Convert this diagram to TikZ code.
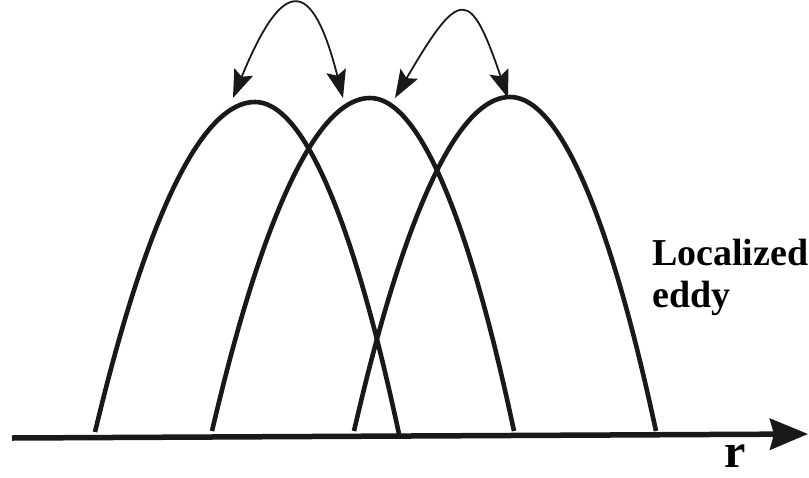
\documentclass[tikz,border=0pt]{standalone}
\usepackage{fontspec}
\setmainfont{Liberation Serif}
\usetikzlibrary{arrows.meta}
\begin{document}
\begin{tikzpicture}[x=1pt,y=-1pt,
  eddycurve/.style={line width=4.6pt,black!90},
  axisline/.style={line width=5.5pt,black!90,-{Stealth[length=38pt,width=31pt,inset=4pt]}},
  hop/.style={line width=1.8pt,black!90,{Stealth[length=28pt,width=20pt,inset=5pt]}-{Stealth[length=28pt,width=20pt,inset=5pt]}},
  lbl/.style={inner sep=0pt,anchor=base west,font=\bfseries\fontsize{38}{42}\selectfont}
]
\useasboundingbox (0,0) rectangle (809,477);
% axis
\coordinate (axL) at (12,438);
\coordinate (axR) at (808,434);
\draw[axisline] (axL) -- (axR);
% eddies
\coordinate (f1l) at (95,432); \coordinate (p1) at (255,102); \coordinate (f1r) at (399,434);
\coordinate (f2l) at (212,431); \coordinate (p2) at (370,98); \coordinate (f2r) at (514,431);
\coordinate (f3l) at (354,431); \coordinate (p3) at (510,97); \coordinate (f3r) at (656,431);
\draw[eddycurve] (f1l) parabola bend (p1) (f1r);
\draw[eddycurve] (f2l) parabola bend (p2) (f2r);
\draw[eddycurve] (f3l) parabola bend (p3) (f3r);
% hopping arrows
\coordinate (a1s) at (233,98); \coordinate (a1e) at (343,98);
\coordinate (a2s) at (395,98); \coordinate (a2e) at (508,98);
\draw[hop] (a1s) .. controls (283,-24) and (312,-24) .. (a1e);
\draw[hop] (a2s) .. controls (460,-13) and (470,-13) .. (a2e);
% labels
\node[lbl] (loc) at (652,265) {Localized};
\node[lbl] (eddy) at (652,307) {eddy};
\node[lbl,font=\bfseries\fontsize{48}{56}\selectfont] (r) at (724,467) {r};
\end{tikzpicture}
\end{document}
